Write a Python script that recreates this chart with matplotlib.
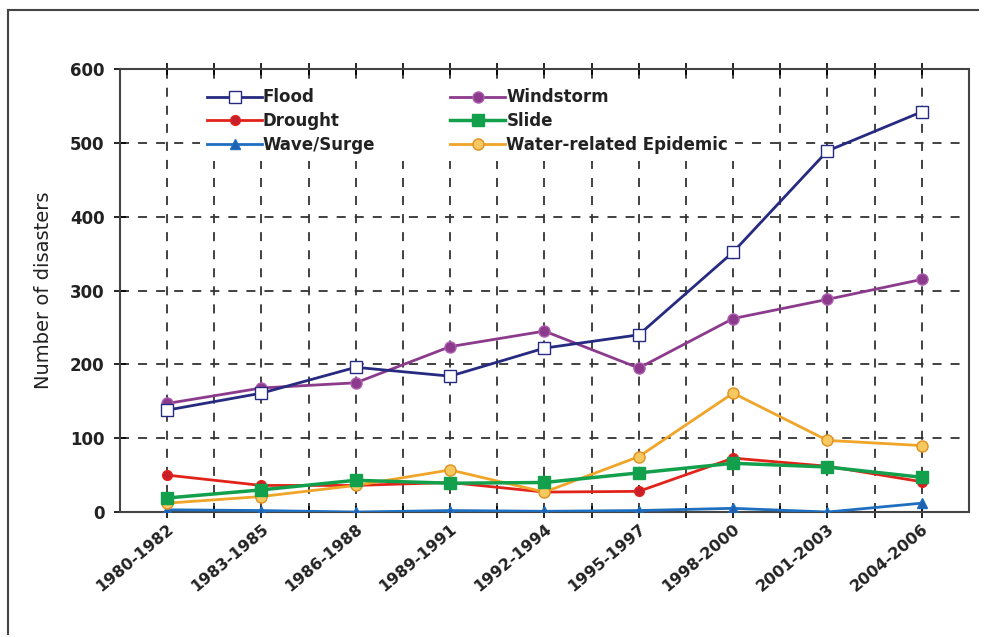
import matplotlib
matplotlib.use("Agg")
import matplotlib.pyplot as plt
from matplotlib.lines import Line2D
import numpy as np

plt.rcParams['font.family'] = ['DejaVu Sans']

periods = ['1980-1982', '1983-1985', '1986-1988', '1989-1991', '1992-1994',
           '1995-1997', '1998-2000', '2001-2003', '2004-2006']
flood = [138, 161, 196, 184, 222, 240, 352, 489, 542]
windstorm = [147, 168, 175, 224, 245, 195, 262, 288, 315]
drought = [50, 36, 36, 40, 27, 28, 73, 62, 41]
slide = [19, 30, 43, 39, 40, 53, 66, 61, 47]
wave = [3, 2, 0, 2, 1, 2, 5, 0, 12]
epidemic = [12, 21, 36, 57, 27, 75, 161, 97, 90]

fig = plt.figure(figsize=(9.86, 6.37), dpi=100)
ax = fig.add_axes([0.1217, 0.1962, 0.861, 0.6955])

x = np.arange(len(periods))

# plot order so Flood / Windstorm sit on top
ax.plot(x, wave, color='#1f6fc0', lw=2, marker='^', ms=7, mfc='#1f5fb0', mec='#1f6fc0', label='Wave/Surge', zorder=3)
ax.plot(x, drought, color='#e2231a', lw=2, marker='o', ms=7, mfc='#c8202a', mec='#e2231a', label='Drought', zorder=3)
ax.plot(x, epidemic, color='#f0a428', lw=2, marker='o', ms=8, mfc='#f5c860', mec='#e09020', label='Water-related Epidemic', zorder=3)
ax.plot(x, slide, color='#12a04c', lw=2.5, marker='s', ms=8, mfc='#12a04c', mec='#12a04c', label='Slide', zorder=3)
ax.plot(x, windstorm, color='#8c3a8c', lw=2, marker='o', ms=8, mfc='#8c3a8c', mec='#b060b0', label='Windstorm', zorder=4)
ax.plot(x, flood, color='#262a80', lw=2, marker='s', ms=8, mfc='white', mec='#262a80', label='Flood', zorder=5)

ax.set_xlim(-0.5, 8.5)
ax.set_ylim(0, 600)
ax.set_yticks(range(0, 601, 100))
ax.set_xticks(x)
ax.set_xticks(np.arange(0.5, 8.0, 1.0), minor=True)
ax.set_xticklabels(periods, rotation=40, ha='right', rotation_mode='anchor',
                   fontsize=11.5, fontweight='bold', color='#222222')
for lab in ax.get_yticklabels():
    lab.set_fontsize(12)
    lab.set_fontweight('bold')
    lab.set_color('#222222')

ax.grid(True, which='both', axis='x', color='#333333', ls=(0, (5, 5)), lw=1.3)
ax.grid(True, which='major', axis='y', color='#333333', ls=(0, (5, 5)), lw=1.3)
ax.tick_params(axis='both', which='both', direction='inout', length=8, width=1.2, top=True)
ax.tick_params(axis='x', which='major', pad=3)
ax.tick_params(axis='y', which='major', pad=7)
for s in ax.spines.values():
    s.set_color('#444444')
    s.set_linewidth(1.5)

ax.set_ylabel('Number of disasters', fontsize=14, color='#222222', labelpad=12)

handles, labels = ax.get_legend_handles_labels()
hmap = dict(zip(labels, handles))
# two columns, filled column-wise
col1 = ['Flood', 'Drought', 'Wave/Surge']
col2 = ['Windstorm', 'Slide', 'Water-related Epidemic']
leg = ax.legend([hmap[k] for k in col1 + col2], col1 + col2, ncol=2, frameon=True,
                loc='upper left', bbox_to_anchor=(0.085, 0.99), handlelength=3.3,
                handletextpad=0.05, columnspacing=4.5, labelspacing=0.35,
                borderpad=0.4, prop={'weight': 'bold', 'size': 12})
leg.get_frame().set_facecolor('white')
leg.get_frame().set_edgecolor('none')
leg.get_frame().set_alpha(1)
leg.get_frame().set_boxstyle('square', pad=0)
leg.set_zorder(6)
for t in leg.get_texts():
    t.set_color('#222222')

# outer frame lines (top and left)
fig.add_artist(Line2D([0.008, 0.992], [0.984, 0.984], transform=fig.transFigure, color='#444444', lw=1.5))
fig.add_artist(Line2D([0.008, 0.008], [0.005, 0.984], transform=fig.transFigure, color='#444444', lw=1.5))

fig.savefig('out.png', dpi=100)
